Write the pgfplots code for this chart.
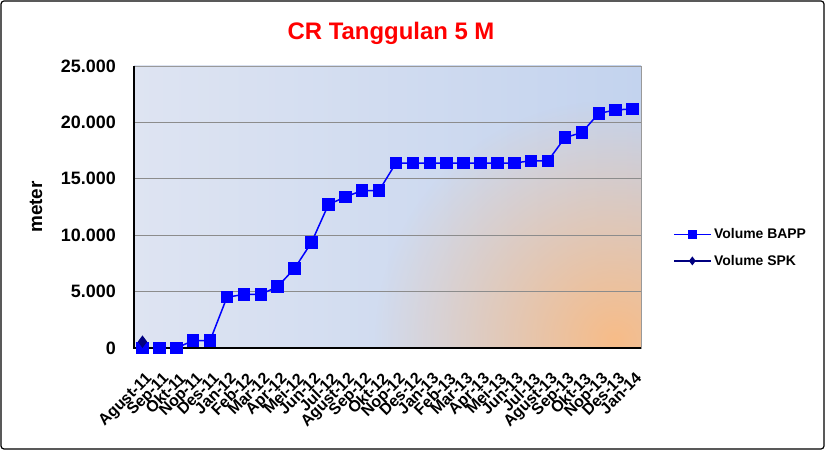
\documentclass[border=0pt]{standalone}
\usepackage{pgfplots}
\pgfplotsset{compat=1.18}
\usepackage{fontspec}
\setmainfont{Liberation Sans}
\usetikzlibrary{fadings}

\definecolor{bgTL}{HTML}{DEE4F2}
\definecolor{bgMid}{HTML}{C3D3EE}
\definecolor{glow}{HTML}{F7BC88}
\definecolor{bappblue}{HTML}{0000FF}
\definecolor{spknavy}{HTML}{000080}

\tikzfading[name=glowfade, inner color=transparent!0, outer color=transparent!100]

\begin{document}
\begin{tikzpicture}
\useasboundingbox (0,0) rectangle (825bp,450bp);
\draw[black, line width=1.2bp, rounded corners=3bp] (1bp,1bp) rectangle (824bp,449bp);

% plot area background
\shade[shading angle=60, left color=bgTL, right color=bgMid] (134bp,102bp) rectangle (641bp,384bp);
\begin{scope}
  \clip (134bp,102bp) rectangle (641bp,384bp);
  \fill[glow, path fading=glowfade] (615bp,110bp) circle (240bp);
\end{scope}

\node[text=red, font=\bfseries\fontsize{24}{28}\selectfont] at (391bp,417bp) {CR Tanggulan 5 M};
\node[rotate=90, font=\bfseries\fontsize{19}{22}\selectfont] at (36bp,243bp) {meter};

\begin{axis}[
    anchor=south west,
    at={(134bp,102bp)},
    scale only axis,
    width=507bp,
    height=282bp,
    xmin=-0.5, xmax=29.5,
    ymin=0, ymax=25000,
    ytick={0,5000,10000,15000,20000,25000},
    scaled y ticks=false,
    xtick=data,
    xticklabels={Agust-11,Sep-11,Okt-11,Nop-11,Des-11,Jan-12,Feb-12,Mar-12,Apr-12,Mei-12,Jun-12,Jul-12,Agust-12,Sep-12,Okt-12,Nop-12,Des-12,Jan-13,Feb-13,Mar-13,Apr-13,Mei-13,Jun-13,Jul-13,Agust-13,Sep-13,Okt-13,Nop-13,Des-13,Jan-14},
    major tick length=0pt,
    ymajorgrids,
    grid style={draw=gray!90, line width=0.8bp},
    axis line style={draw=gray!80, line width=0.8bp},
    /pgf/number format/assume math mode=true,
    yticklabel style={/pgf/number format/.cd, fixed, 1000 sep={.}, /tikz/.cd,
        font=\bfseries\fontsize{18}{20}\selectfont, inner sep=0pt, anchor=east, xshift=-18bp},
    xticklabel style={font=\bfseries\fontsize{16}{18}\selectfont, rotate=45, anchor=north east, inner sep=0pt, yshift=-18bp, xshift=-15bp},
    clip=false,
    legend style={at={(1.058,0.356)}, anchor=west, draw=none, fill=none,
        font=\bfseries\fontsize{14}{16}\selectfont, row sep=11bp,
        /tikz/every even column/.append style={column sep=2bp}},
    legend cell align=left,
    legend image code/.code={\draw[mark repeat=2, mark phase=2, every mark/.append style={scale=0.65}] plot coordinates {(0bp,0bp) (18bp,0bp) (37bp,0bp)};},
]
\addplot[color=bappblue, line width=1.5bp, mark=square*, mark size=5.5bp, mark options={solid}]
coordinates {
    (0,0) (1,0) (2,0) (3,650) (4,650)
    (5,4500) (6,4750) (7,4750) (8,5450) (9,7050) (10,9350) (11,12700)
    (12,13400) (13,13950) (14,13950) (15,16400) (16,16400)
    (17,16400) (18,16400) (19,16400) (20,16400) (21,16400) (22,16400)
    (23,16600) (24,16600) (25,18650) (26,19100) (27,20800) (28,21100)
    (29,21200)
};
\addlegendentry{Volume BAPP}
\addplot[color=spknavy, line width=1.5bp, mark=diamond*, mark size=5bp]
coordinates {
    (0,560)
};
\addlegendentry{Volume SPK}
\draw[black, line width=1.2bp] (rel axis cs:0,1) -- (rel axis cs:0,0) -- (rel axis cs:1,0);
\end{axis}
\end{tikzpicture}
\end{document}
